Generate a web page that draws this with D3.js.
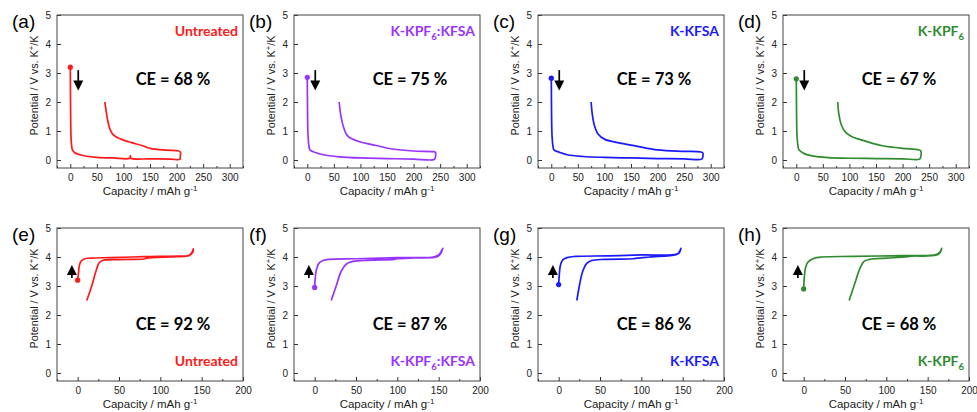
<!DOCTYPE html>
<html>
<head>
<meta charset="utf-8">
<script src="https://cdn.jsdelivr.net/npm/d3@7"></script>
<style>
  body { margin: 0; background: #fff; }
  svg { display: block; }
  .tick text { font-family: "Liberation Sans", Arial, sans-serif; font-size: 10px; fill: #222; }
</style>
</head>
<body>
<svg width="977" height="412"></svg>
<script>
// ---------- data: [capacity, potential] ----------
const untreatedFirst = [
  [0,3.2],[0.3,2.4],[0.7,1.5],[1.2,0.9],[2,0.6],[4,0.35],[8,0.26],[15,0.2],[30,0.13],[50,0.09],[80,0.07],
  [112,0.06],[113,0.14],[114,0.06],[150,0.04],[190,0.03],[206,0.02],[207,0.1],[207,0.28],[203,0.32],
  [180,0.34],[150,0.4],[135,0.5],[115,0.6],[95,0.72],[82,0.85],[75,1.05],[70,1.4],[67,1.75],[65,2.0]
];
const kpfKfsaFirst = [
  [0,2.85],[0.3,2.1],[0.7,1.3],[1.5,0.8],[3,0.5],[5,0.35],[15,0.26],[30,0.18],[60,0.11],[100,0.07],
  [150,0.05],[200,0.03],[239,0.02],[241,0.1],[241,0.27],[236,0.29],[200,0.31],[160,0.38],[130,0.5],
  [100,0.62],[85,0.72],[75,0.85],[68,1.15],[63,1.55],[60,2.0]
];
const kfsaFirst = [
  [0,2.82],[0.3,2.1],[0.7,1.3],[1.5,0.8],[3,0.5],[5,0.35],[15,0.27],[30,0.18],[60,0.12],[100,0.09],
  [150,0.07],[200,0.05],[250,0.04],[283,0.03],[285,0.1],[285,0.25],[280,0.28],[250,0.3],[200,0.35],
  [160,0.48],[125,0.6],[100,0.72],[88,0.9],[81,1.2],[77,1.6],[75,2.0]
];
const kpfFirst = [
  [0,2.8],[0.3,2.1],[0.7,1.3],[1.5,0.8],[3,0.5],[5,0.35],[15,0.22],[30,0.14],[60,0.08],[100,0.06],
  [150,0.05],[200,0.04],[232,0.03],[234,0.1],[234,0.32],[228,0.36],[200,0.4],[160,0.5],[130,0.65],
  [105,0.8],[93,0.95],[85,1.2],[80,1.6],[78,2.0]
];
const untreatedSecond = [
  [0,3.2],[1,3.45],[2,3.7],[4,3.85],[8,3.93],[15,3.96],[40,3.98],[80,4.01],[120,4.03],[134,4.05],
  [138,4.15],[140,4.28],[139,4.15],[135,4.05],[120,4.01],[90,3.98],[84,3.96],[80,3.93],[50,3.91],
  [30,3.88],[26,3.8],[22,3.5],[17,3.0],[11,2.5]
];
const kpfKfsaSecond = [
  [0,2.95],[0.5,3.2],[2,3.55],[5,3.78],[10,3.88],[18,3.92],[50,3.94],[100,3.98],[145,4.01],
  [151,4.1],[155,4.3],[152,4.1],[147,4.0],[120,3.97],[100,3.94],[96,3.92],[60,3.88],[45,3.84],
  [38,3.75],[32,3.5],[26,3.0],[20,2.5]
];
const kfsaSecond = [
  [0,3.05],[0.8,3.4],[2,3.7],[5,3.9],[10,3.98],[20,4.02],[60,4.04],[100,4.07],[143,4.1],
  [146,4.18],[148,4.3],[146,4.15],[142,4.08],[110,4.0],[95,3.96],[90,3.94],[55,3.92],[40,3.88],
  [34,3.78],[29,3.5],[25,3.0],[22,2.5]
];
const kpfSecond = [
  [0,2.9],[0.8,3.3],[2,3.6],[5,3.82],[12,3.95],[22,4.0],[60,4.02],[120,4.05],[160,4.08],
  [165,4.18],[167,4.3],[165,4.15],[160,4.06],[130,4.03],[122,4.0],[100,3.96],[80,3.92],
  [73,3.85],[68,3.6],[62,3.1],[55,2.5]
];

const panelLetters = ["(a)","(b)","(c)","(d)","(e)","(f)","(g)","(h)"];
const sampleNames  = ["Untreated","K-KPF6:KFSA","K-KFSA","K-KPF6"];
const sampleColors = ["#ff1a1a","#9933ff","#1a1aff","#2e8b2e"];
const firstCE  = [68, 75, 73, 67];
const secondCE = [92, 87, 86, 68];
const firstCurves  = [untreatedFirst, kpfKfsaFirst, kfsaFirst, kpfFirst];
const secondCurves = [untreatedSecond, kpfKfsaSecond, kfsaSecond, kpfSecond];
const topXTicks    = [0, 50, 100, 150, 200, 250, 300];
const bottomXTicks = [0, 50, 100, 150, 200];
const yTicks       = [0, 1, 2, 3, 4, 5];
// arrow annotations: [capacity, from potential, to potential]
const downArrow = [15, 3.1, 2.4];
const upArrow   = [-7, 3.28, 3.72];

// ---------- layout ----------
const panelLeft = [57, 294, 538, 783];
const rowTop    = [15, 228];
const boxW = 186, boxH = 153;

const svg = d3.select("svg");

function sampleLabel(sel, name) {
  // render "KPF6" with subscript 6
  const parts = name.split("6");
  let shifted = false;
  parts.forEach((p, i) => {
    const t = sel.append("tspan").text(p);
    if (shifted) { t.attr("dy", -4); shifted = false; }
    if (i < parts.length - 1) {
      sel.append("tspan").attr("font-size", "9.5px").attr("dy", 4).text("6");
      shifted = true;
    }
  });
}

function drawPanel(col, row) {
  const left = panelLeft[col], top = rowTop[row];
  const color = sampleColors[col];
  const curve = row === 0 ? firstCurves[col] : secondCurves[col];
  const xDomain = row === 0 ? [-25, 325] : [-25, 200];
  const xTickVals = row === 0 ? topXTicks : bottomXTicks;

  const g = svg.append("g").attr("transform", `translate(${left},${top})`);
  const x = d3.scaleLinear().domain(xDomain).range([0, boxW]);
  const y = d3.scaleLinear().domain([5 - boxH / 29, 5]).range([boxH, 0]);

  // minor ticks
  const minor = d3.range(xDomain[0], xDomain[1] + 1, 25).filter(v => v % 50 !== 0);
  g.append("g").attr("transform", `translate(0,${boxH})`)
    .call(d3.axisBottom(x).tickValues(minor).tickSize(-2).tickFormat(""))
    .call(a => a.select(".domain").remove())
    .selectAll("line").attr("stroke", "#333");

  const xa = g.append("g").attr("transform", `translate(0,${boxH})`)
    .call(d3.axisBottom(x).tickValues(xTickVals).tickSize(-4).tickPadding(6));
  xa.select(".domain").remove();
  xa.selectAll("line").attr("stroke", "#333");

  const ya = g.append("g")
    .call(d3.axisLeft(y).tickValues(yTicks).tickSize(-4).tickPadding(6).tickFormat(d3.format("d")));
  ya.select(".domain").remove();
  ya.selectAll("line").attr("stroke", "#333");

  g.append("rect").attr("width", boxW).attr("height", boxH)
    .attr("fill", "none").attr("stroke", "#444").attr("stroke-width", 1);

  // curve
  const line = d3.line().x(d => x(d[0])).y(d => y(d[1])).curve(d3.curveCatmullRom.alpha(0.5));
  g.append("path").attr("d", line(curve))
    .attr("fill", "none").attr("stroke", color).attr("stroke-width", 1.7)
    .attr("stroke-linejoin", "round");
  g.append("circle").attr("cx", x(curve[0][0])).attr("cy", y(curve[0][1]))
    .attr("r", 2.6).attr("fill", color);

  // arrow
  const arr = row === 0 ? downArrow : upArrow;
  const ax = x(arr[0]), y0 = y(arr[1]), y1 = y(arr[2]);
  const dir = Math.sign(y1 - y0);
  g.append("line").attr("x1", ax).attr("x2", ax).attr("y1", y0).attr("y2", y1 - dir * 6)
    .attr("stroke", "#000").attr("stroke-width", 1.7);
  g.append("path")
    .attr("d", `M${ax - 5},${y1 - dir * 10}L${ax + 5},${y1 - dir * 10}L${ax},${y1}Z`)
    .attr("fill", "#000");

  // CE text
  const ce = row === 0 ? firstCE[col] : secondCE[col];
  g.append("text")
    .attr("x", 116).attr("y", row === 0 ? 70 : 102)
    .attr("text-anchor", "middle")
    .attr("font-family", "Lato, 'Open Sans', sans-serif")
    .attr("font-weight", "bold").attr("font-size", "16.5px").attr("fill", "#000")
    .text(`CE = ${ce} %`);

  // sample label
  const lab = g.append("text")
    .attr("x", boxW - 5).attr("y", row === 0 ? 21 : 138)
    .attr("text-anchor", "end")
    .attr("font-family", "Lato, 'Open Sans', sans-serif")
    .attr("font-weight", "bold").attr("font-size", "14px").attr("fill", color);
  sampleLabel(lab, sampleNames[col]);

  // panel letter
  svg.append("text")
    .attr("x", left - 45).attr("y", top + 13)
    .attr("font-family", "'Liberation Sans', Arial, sans-serif")
    .attr("font-size", "19px").attr("fill", "#000")
    .text(panelLetters[row * 4 + col]);

  // axis titles
  const yt = svg.append("text")
    .attr("transform", `translate(${left - 19},${top + boxH / 2 - 6}) rotate(-90)`)
    .attr("text-anchor", "middle")
    .attr("font-family", "'Liberation Sans', Arial, sans-serif")
    .attr("font-size", "10.8px").attr("fill", "#222");
  yt.append("tspan").text("Potential / V vs. K");
  yt.append("tspan").attr("font-size", "7.5px").attr("dy", -4).text("+");
  yt.append("tspan").attr("dy", 4).text("/K");

  const xt = svg.append("text")
    .attr("x", left + boxW / 2).attr("y", top + boxH + 27)
    .attr("text-anchor", "middle")
    .attr("font-family", "'Liberation Sans', Arial, sans-serif")
    .attr("font-size", "11.5px").attr("fill", "#222");
  xt.append("tspan").text("Capacity / mAh g");
  xt.append("tspan").attr("font-size", "8px").attr("dy", -4).text("-1");
}

for (let row = 0; row < 2; row++)
  for (let col = 0; col < 4; col++) drawPanel(col, row);
</script>
</body>
</html>
